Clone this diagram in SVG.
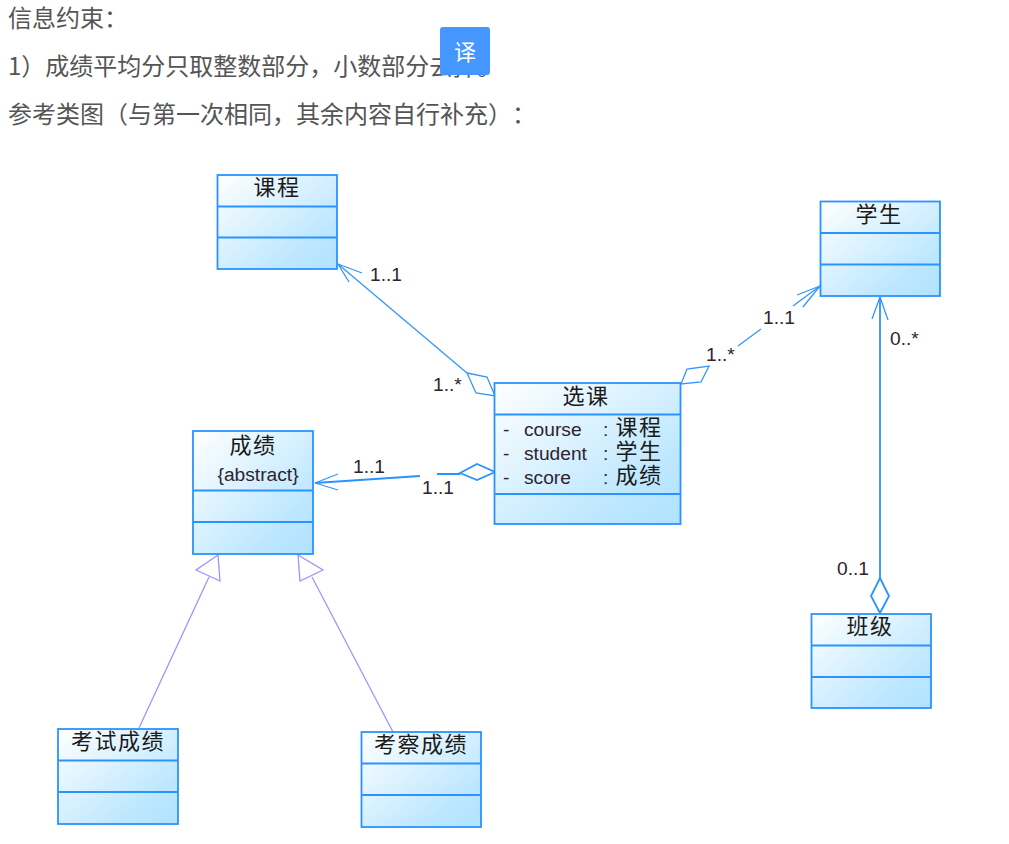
<svg xmlns="http://www.w3.org/2000/svg" width="1009" height="844" viewBox="0 0 1009 844">
<style>
.p{font-family:"Noto Sans CJK SC","Noto Sans",sans-serif;font-size:24px;fill:#555;font-feature-settings:"chws" 0;text-spacing-trim:space-all}
.b{fill:url(#g);stroke:#2a93ff;stroke-width:1.8}
.d{stroke:#2a93ff;stroke-width:1.8;fill:none}
.t{font-family:"Noto Sans CJK SC","Noto Sans",sans-serif;font-size:22px;fill:#1a1a1a;text-anchor:middle;letter-spacing:1.5px}
.a{font-family:"Liberation Sans",Arial,sans-serif;font-size:19.2px;fill:#2d2430}
.c{stroke:#3296ff;stroke-width:1.3;fill:none}
.i{stroke:#9a96ff;stroke-width:1.3;fill:none}
.h{stroke:#9a96ff;stroke-width:1.3;fill:#fff}
</style>
<defs>
<linearGradient id="g" x1="0" y1="0" x2="1" y2="1"><stop offset="0" stop-color="#ffffff"/><stop offset="0.75" stop-color="#bde7ff"/><stop offset="1" stop-color="#b0e2ff"/></linearGradient>
</defs>
<rect width="1009" height="844" fill="#fff"/>
<g id="intro">
<text class="p" x="8" y="27">信息约束：</text>
<text class="p" x="8" y="75">1）成绩平均分只取整数部分，小数部分去掉。</text>
<text class="p" x="8" y="123">参考类图（与第一次相同，其余内容自行补充）：</text>
</g>
<g id="translate">
<rect x="440" y="27" width="50" height="48" rx="3" fill="#4596ff"/>
<text x="465" y="60" font-family="'Noto Sans CJK SC',sans-serif" font-size="22" fill="#fff" text-anchor="middle">译</text>
</g>
<g id="connectors">
<path class="c" d="M338 264L467 373"/>
<path class="c" d="M338 264L362 273M338 264L349 282"/>
<path class="c" d="M467 373L487 377L495 396L476 393Z"/>
<path class="c" d="M681 384L687 369L709 366L701 382Z"/>
<path class="c" d="M738 346L761 329M793 306L820 286"/>
<path class="c" d="M820 286L797 295M820 286L803 307"/>
<path class="d" d="M880 297V578"/>
<path class="c" d="M880 297L872 319M880 297L888 320"/>
<path class="d" d="M880 578L889 596L880 613L871 596Z"/>
<path class="d" d="M315 483L420 476M437 474H460"/>
<path class="c" d="M315 483L338 474M315 483L338 490"/>
<path class="d" d="M460 473L477 464L495 472L477 480Z"/>
<path class="i" d="M139 728L209 577M393 732L312 577"/>
<path class="h" d="M218 555L196 570L220 581Z"/>
<path class="h" d="M298 555L323 570L300 581Z"/>
</g>
<g id="labels">
<text class="a" x="370" y="281">1..1</text>
<text class="a" x="433" y="391">1..*</text>
<text class="a" x="763" y="324">1..1</text>
<text class="a" x="706" y="361">1..*</text>
<text class="a" x="890" y="345">0..*</text>
<text class="a" x="837" y="575">0..1</text>
<text class="a" x="353" y="473">1..1</text>
<text class="a" x="422" y="494">1..1</text>
</g>
<g id="kecheng"><rect class="b" x="217.500" y="175" width="119.500" height="94"/><path class="d" d="M217.500 206.500H337M217.500 237.500H337"/><text class="t" x="277" y="195">课程</text></g>
<g id="xuesheng"><rect class="b" x="820.500" y="201.500" width="119.500" height="94.500"/><path class="d" d="M820.500 233H940M820.500 264.500H940"/><text class="t" x="879" y="222">学生</text></g>
<g id="banji"><rect class="b" x="811.500" y="614" width="119.500" height="94"/><path class="d" d="M811.500 645.500H931M811.500 677H931"/><text class="t" x="870" y="634">班级</text></g>
<g id="xuanke"><rect class="b" x="494.500" y="383" width="186" height="141"/><path class="d" d="M494.500 414.500H680.500M494.500 494H680.500"/><text class="t" x="586" y="404">选课</text>
<text class="a" x="503" y="436">-</text><text class="a" x="524" y="436">course</text><text class="a" x="603" y="436">:</text><text class="t" x="639" y="435">课程</text>
<text class="a" x="503" y="460">-</text><text class="a" x="524" y="460">student</text><text class="a" x="603" y="460">:</text><text class="t" x="639" y="459">学生</text>
<text class="a" x="503" y="484">-</text><text class="a" x="524" y="484">score</text><text class="a" x="603" y="484">:</text><text class="t" x="639" y="483">成绩</text></g>
<g id="chengji"><rect class="b" x="193" y="431" width="120" height="123"/><path class="d" d="M193 490.500H313M193 522H313"/><text class="t" x="253" y="453">成绩</text><text class="a" x="217.500" y="481">{abstract}</text></g>
<g id="kaoshi"><rect class="b" x="58" y="729" width="120" height="95"/><path class="d" d="M58 760.500H178M58 792H178"/><text class="t" x="118" y="749">考试成绩</text></g>
<g id="kaocha"><rect class="b" x="361.500" y="732" width="119.500" height="95"/><path class="d" d="M361.500 763.500H481M361.500 795H481"/><text class="t" x="421" y="752">考察成绩</text></g>
</svg>
